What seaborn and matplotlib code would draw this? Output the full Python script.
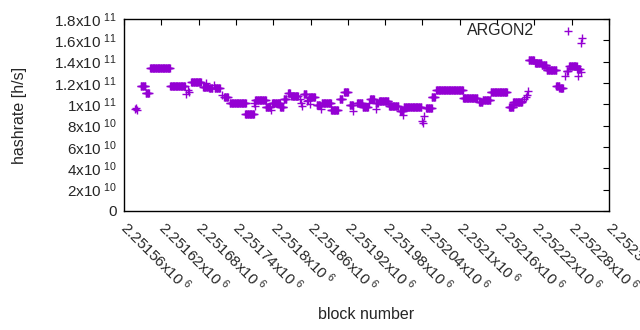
import numpy as np
import pandas as pd
import matplotlib
matplotlib.use("Agg")
import matplotlib.pyplot as plt
import seaborn as sns

# runs of blocks with the same reported hashrate (block offsets from 2251560)
base_block = 2251560
run_start = [18, 19, 21, 27, 35, 42, 74, 100, 103, 105, 108, 127, 132, 137, 145,
             146, 158, 161, 170, 195, 209, 211, 211, 228, 236, 238, 251, 257,
             264, 269, 283, 285, 286, 289, 294, 296, 298, 299, 310, 317, 318,
             333, 347, 354, 363, 368, 375, 384, 394, 396, 405, 405, 410, 426,
             444, 449, 450, 479, 481, 482, 486, 495, 502, 545, 571, 577, 590,
             619, 626, 640, 643, 647, 648, 650, 651, 661, 672, 680, 695, 700,
             709, 712, 716, 729, 730, 735, 735, 737]
run_end = [18, 19, 21, 34, 40, 74, 98, 100, 103, 105, 124, 135, 132, 142, 145,
           154, 158, 167, 196, 209, 209, 211, 228, 235, 236, 251, 256, 261,
           267, 280, 283, 285, 286, 293, 294, 296, 307, 299, 315, 317, 333,
           344, 351, 360, 368, 368, 383, 392, 394, 402, 405, 408, 425, 441,
           449, 449, 478, 479, 481, 482, 495, 500, 545, 568, 576, 589, 616,
           626, 640, 640, 643, 647, 648, 650, 659, 671, 679, 695, 700, 706,
           709, 714, 728, 733, 730, 735, 735, 737]
run_rate = [9.6e10, 9.7e10, 9.47e10, 1.169e11, 1.103e11, 1.338e11, 1.169e11,
            1.094e11, 1.134e11, 1.12e11, 1.206e11, 1.16e11, 1.197e11, 1.15e11,
            1.18e11, 1.153e11, 1.09e11, 1.066e11, 1.01e11, 9.06e10, 1.01e11,
            9.8e10, 1.038e11, 9.78e10, 9.5e10, 1.0125e11, 9.72e10, 1.053e11,
            1.103e11, 1.075e11, 1.05e11, 1.015e11, 9.8e10, 1.097e11, 1.03e11,
            1.04e11, 1.066e11, 1.0e11, 9.9e10, 9.6e10, 1.015e11, 9.5e10,
            1.053e11, 1.113e11, 9.94e10, 9.4e10, 1.01e11, 9.72e10, 1.01e11,
            1.047e11, 9.6e10, 1.015e11, 1.028e11, 9.8e10, 9.375e10, 9.0e10,
            9.75e10, 8.4e10, 8.28e10, 8.9e10, 9.63e10, 1.066e11, 1.131e11,
            1.063e11, 1.019e11, 1.04e11, 1.113e11, 9.72e10, 1.019e11, 1.03e11,
            1.047e11, 1.072e11, 1.09e11, 1.128e11, 1.416e11, 1.39e11, 1.366e11,
            1.319e11, 1.175e11, 1.156e11, 1.266e11, 1.3125e11, 1.356e11,
            1.331e11, 1.266e11, 1.306e11, 1.578e11, 1.625e11]

xtick_values = [2251560, 2251620, 2251680, 2251740, 2251800, 2251860, 2251920,
                2251980, 2252040, 2252100, 2252160, 2252220, 2252280, 2252340]
xtick_labels = ["2.25156x10$^{\\ 6}$", "2.25162x10$^{\\ 6}$", "2.25168x10$^{\\ 6}$",
                "2.25174x10$^{\\ 6}$", "2.2518x10$^{\\ 6}$", "2.25186x10$^{\\ 6}$",
                "2.25192x10$^{\\ 6}$", "2.25198x10$^{\\ 6}$", "2.25204x10$^{\\ 6}$",
                "2.2521x10$^{\\ 6}$", "2.25216x10$^{\\ 6}$", "2.25222x10$^{\\ 6}$",
                "2.25228x10$^{\\ 6}$", "2.25234x10$^{\\ 6}$"]
ytick_values = [0, 2e10, 4e10, 6e10, 8e10, 1e11, 1.2e11, 1.4e11, 1.6e11, 1.8e11]
ytick_labels = ["0", "2x10$^{\\ 10}$", "4x10$^{\\ 10}$", "6x10$^{\\ 10}$",
                "8x10$^{\\ 10}$", "1x10$^{\\ 11}$", "1.2x10$^{\\ 11}$",
                "1.4x10$^{\\ 11}$", "1.6x10$^{\\ 11}$", "1.8x10$^{\\ 11}$"]

# expand the runs to one point per block
blocks, rates = [], []
for s, e, r in zip(run_start, run_end, run_rate):
    for b in range(s, e + 1):
        blocks.append(base_block + b)
        rates.append(r)
df = pd.DataFrame({"block": blocks, "hashrate": rates})

sns.set_style("white")
plt.rcParams["font.family"] = ["Liberation Sans", "DejaVu Sans"]
plt.rcParams["mathtext.fontset"] = "custom"
plt.rcParams["mathtext.rm"] = "Liberation Sans"
plt.rcParams["mathtext.default"] = "regular"

fig = plt.figure(figsize=(6.4, 3.3), dpi=100)
ax = fig.add_axes([124 / 640, 1 - 211 / 330, 485 / 640, 192 / 330])

sns.scatterplot(data=df, x="block", y="hashrate", marker="+", s=34,
                color="#9400d3", linewidth=1.0, label="ARGON2", ax=ax)

ax.set_xlim(2251560, 2252340)
ax.set_ylim(0, 1.8e11)
ax.set_xticks(xtick_values)
ax.set_xticklabels(xtick_labels, rotation=-45, ha="left", va="center",
                   rotation_mode="anchor", fontsize=11)
ax.set_yticks(ytick_values)
ax.set_yticklabels(ytick_labels, fontsize=11)
ax.tick_params(direction="in", length=4, width=0.8, top=True, right=True,
               color="black")
ax.tick_params(axis="x", pad=10)
ax.tick_params(axis="y", pad=5)
for sp in ax.spines.values():
    sp.set_color("black")
    sp.set_linewidth(1.0)

ax.set_xlabel("block number", fontsize=11.5)
ax.set_ylabel("hashrate [h/s]", fontsize=11.5)
ax.xaxis.set_label_coords(0.5, -0.5)
ax.yaxis.set_label_coords(-0.2, 0.5)

leg = ax.legend(loc="upper right", bbox_to_anchor=(0.948, 0.98), frameon=False,
                markerfirst=False, handletextpad=1.1, borderaxespad=0,
                borderpad=0, fontsize=11.5)

fig.savefig("out.png", dpi=100)
